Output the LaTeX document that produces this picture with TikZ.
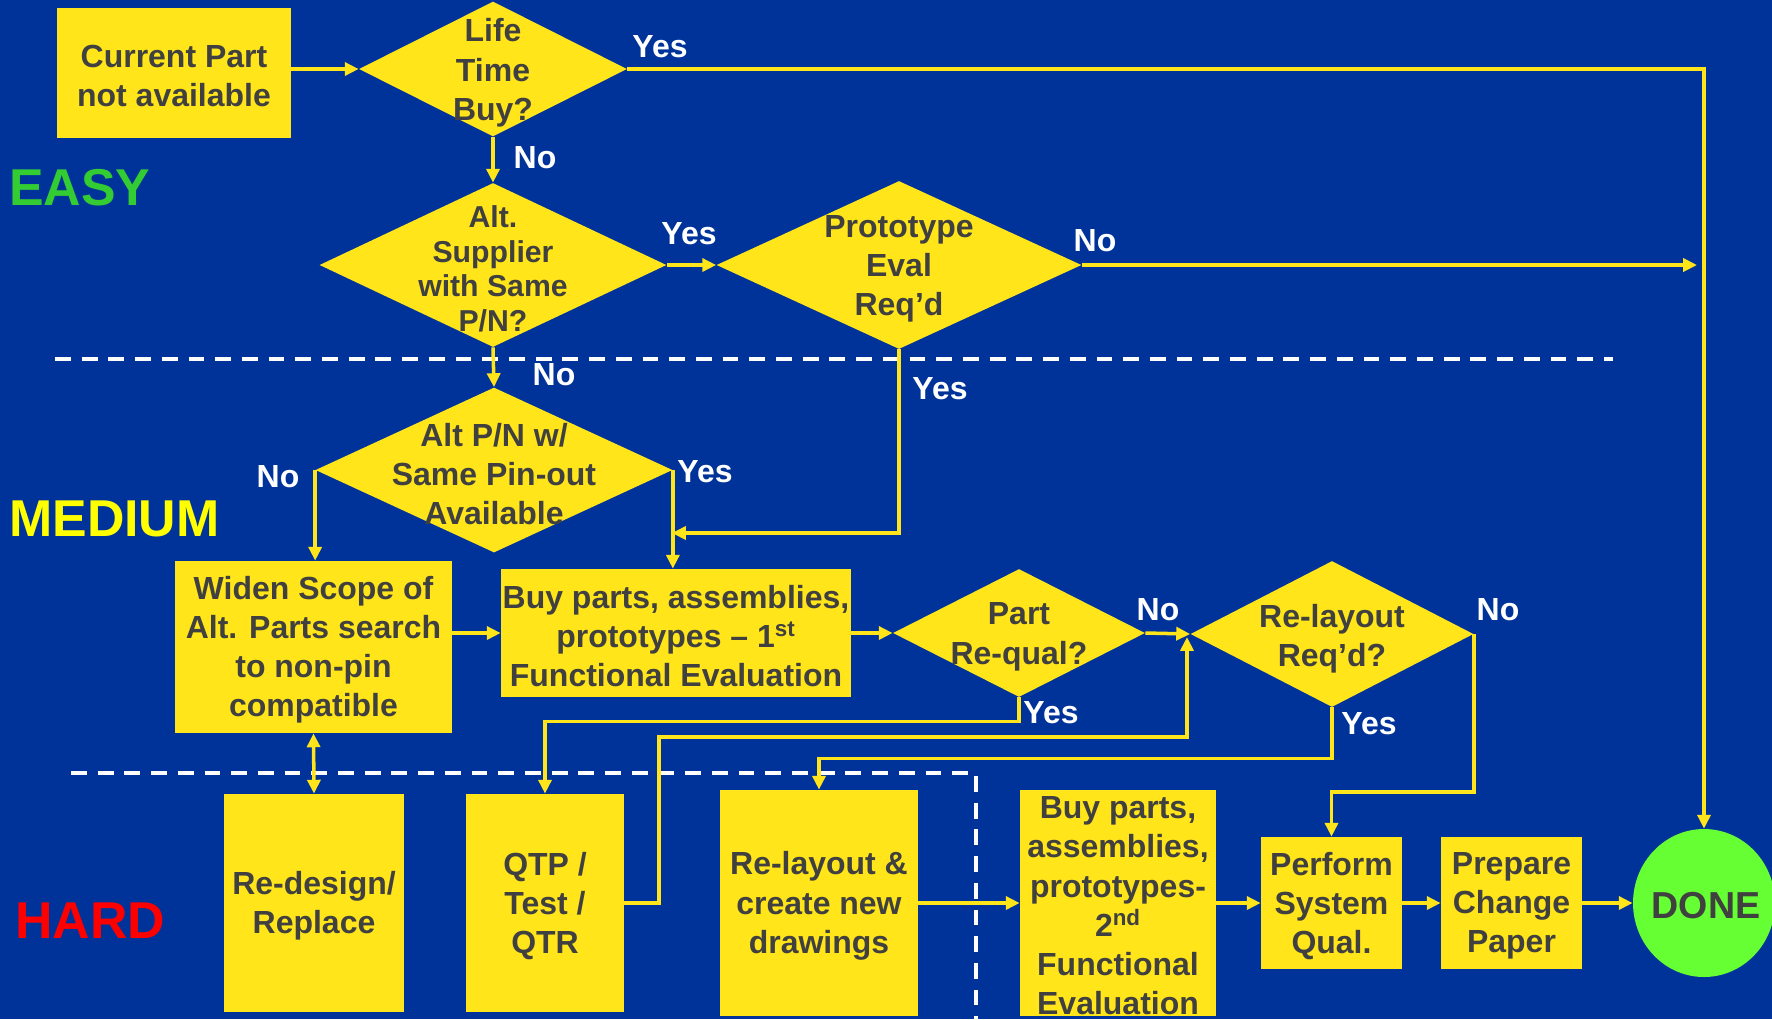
\documentclass[tikz,border=0pt]{standalone}
\usepackage{fontspec}
\setmainfont{Liberation Sans}
\usetikzlibrary{shapes.geometric,arrows.meta,calc}
\newlength\pxu \setlength\pxu{0.02cm}
\definecolor{bg}{HTML}{003399}
\definecolor{yel}{HTML}{FFE51A}
\definecolor{ink}{HTML}{404040}
\definecolor{easyg}{HTML}{33CC33}
\definecolor{mediumy}{HTML}{FFFF00}
\definecolor{hardr}{HTML}{FF0000}
\definecolor{doneg}{HTML}{66FF33}
\begin{document}
\begin{tikzpicture}[x=0.02cm,y=-0.02cm,
  txtfont/.style={font=\bfseries\fontsize{18.2}{22.3}\selectfont},
  box/.style={rectangle, fill=yel, inner sep=0pt},
  dia/.style={diamond, fill=yel, inner sep=0pt},
  dtext/.style={text=ink, txtfont, align=center, inner sep=0pt, yshift=-1.6pt},
  lab/.style={text=white, txtfont, inner sep=0pt},
  conn/.style={draw=yel, line width=2pt},
  arr/.style={conn, -{Triangle[length=7.9pt,width=7.4pt]}},
  dblarr/.style={conn, {Triangle[length=7.9pt,width=7.4pt]}-{Triangle[length=7.9pt,width=7.4pt]}},
  sep/.style={draw=white, line width=2.3pt, dash pattern=on 9pt off 6.2pt},
  zone/.style={font=\bfseries\fontsize{29.5}{30}\selectfont, anchor=west, inner sep=0pt}
]
\fill[bg] (0,0) rectangle (1772,1019);
\useasboundingbox (0,0) rectangle (1772,1019);

% separators
\draw[sep] (55,359) -- (1613,359);
\draw[sep] (71,773) -- (976,773) -- (976,1019);

% zone labels
\node[zone, text=easyg] (zeasy) at (9,188) {EASY};
\node[zone, text=mediumy] (zmed) at (9,519) {MEDIUM};
\node[zone, text=hardr] (zhard) at (15,921) {HARD};

% boxes
\node[box, minimum width=234\pxu, minimum height=130\pxu] (cur) at (174,73) {};
\node[box, minimum width=277\pxu, minimum height=172\pxu] (widen) at (313.5,647) {};
\node[box, minimum width=350\pxu, minimum height=128\pxu] (buy1) at (676,633) {};
\node[box, minimum width=180\pxu, minimum height=218\pxu] (redes) at (314,903) {};
\node[box, minimum width=158\pxu, minimum height=218\pxu] (qtp) at (545,903) {};
\node[box, minimum width=198\pxu, minimum height=226\pxu] (rbox) at (819,903) {};
\node[box, minimum width=196\pxu, minimum height=226\pxu] (buy2) at (1118,903) {};
\node[box, minimum width=141\pxu, minimum height=132\pxu] (perf) at (1331.5,903) {};
\node[box, minimum width=141\pxu, minimum height=132\pxu] (prep) at (1511.5,903) {};
\node[ellipse, fill=doneg, inner sep=0pt, minimum width=142\pxu, minimum height=148\pxu] (done) at (1704,903) {};

\node[dtext] (curt) at (cur) {Current Part\\not available};
\node[dtext] (wident) at (widen) {Widen Scope of\\Alt. Parts search\\to non-pin\\compatible};
\node[dtext] (buy1t) at (buy1) {Buy parts, assemblies,\\prototypes – 1\textsuperscript{st}\\Functional Evaluation};
\node[dtext] (redest) at (redes) {Re-design/\\Replace};
\node[dtext] (qtpt) at (qtp) {QTP /\\Test /\\QTR};
\node[dtext] (rboxt) at (rbox) {Re-layout \&\\create new\\drawings};
\node[dtext] (buy2t) at (buy2) {Buy parts,\\assemblies,\\prototypes-\\2\textsuperscript{nd}\\Functional\\Evaluation};
\node[dtext] (perft) at (perf) {Perform\\System\\Qual.};
\node[dtext] (prept) at (prep) {Prepare\\Change\\Paper};
\node[dtext, font=\bfseries\fontsize{21.4}{24}\selectfont] (donet) at (1706,903) {DONE};

% diamonds
\node[dia, minimum width=268\pxu, minimum height=135\pxu] (life) at (493,69) {};
\node[dtext] (lifet) at (493,70) {Life\\Time\\Buy?};
\node[dia, minimum width=347\pxu, minimum height=164\pxu] (alt) at (493,265) {};
\node[dtext, font=\bfseries\fontsize{17.2}{19.8}\selectfont] (altt) at (493,266) {Alt.\\Supplier\\with Same\\P/N?};
\node[dia, minimum width=365\pxu, minimum height=168\pxu] (proto) at (899,265) {};
\node[dtext] (protot) at (899,266) {Prototype\\Eval\\Req’d};
\node[dia, minimum width=357\pxu, minimum height=165\pxu] (pin) at (494,470) {};
\node[dtext] (pint) at (494,471) {Alt P/N w/\\Same Pin-out\\Available};
\node[dia, minimum width=252\pxu, minimum height=128\pxu] (part) at (1019,633) {};
\node[dtext] (partt) at (1019,634) {Part\\Re-qual?};
\node[dia, minimum width=283\pxu, minimum height=146\pxu] (relay) at (1332,634) {};
\node[dtext] (relayt) at (1332,636) {Re-layout\\Req’d?};

% connector labels
\node[lab] (l1) at (660,47) {Yes};
\node[lab] (l2) at (535,158) {No};
\node[lab] (l3) at (689,234) {Yes};
\node[lab] (l4) at (1095,241) {No};
\node[lab] (l5) at (554,375) {No};
\node[lab] (l6) at (940,389) {Yes};
\node[lab] (l7) at (278,477) {No};
\node[lab] (l8) at (705,472) {Yes};
\node[lab] (l9) at (1158,610) {No};
\node[lab] (l10) at (1051,713) {Yes};
\node[lab] (l11) at (1498,610) {No};
\node[lab] (l12) at (1369,724) {Yes};

% helper coordinates
\coordinate (pend) at (1697,265);
\coordinate (pjoin) at (672,533);
\coordinate (qa) at (659,737);
\coordinate (qb) at (1187,737);
\coordinate (qc) at (1187,637);

% connectors
\draw[arr] (cur.east |- life.west) -- (life.west);
\draw[arr] (life.east) -- (life.east -| done.north) -- (done.north);
\draw[arr] (life.south) -- (alt.north);
\draw[arr] (alt.east) -- (proto.west);
\draw[arr] (proto.east) -- (pend);
\draw[arr] (alt.south) -- (pin.north);
\draw[arr] (proto.south) |- (pjoin);
\draw[arr] (pin.west) -- (pin.west |- widen.north);
\draw[arr] (pin.east) -- (pin.east |- buy1.north);
\draw[arr] (widen.east |- buy1.west) -- (buy1.west);
\draw[arr] (buy1.east) -- (part.west);
\draw[arr] (part.east) -- (relay.west);
\draw[arr] (part.south) -- ++(0,24) -| (qtp.north);
\draw[arr] (qtp.east) -| (qa) -- (qb) -- (qc);
\draw[arr] (relay.south) -- ++(0,51) -| (rbox.north);
\draw[arr] (relay.east) -- ++(0,158) -| (perf.north);
\draw[dblarr] (widen.south) -- (redes.north);
\draw[arr] (rbox.east) -- (buy2.west);
\draw[arr] (buy2.east) -- (perf.west);
\draw[arr] (perf.east) -- (prep.west);
\draw[arr] (prep.east) -- (done.west);
\end{tikzpicture}
\end{document}
